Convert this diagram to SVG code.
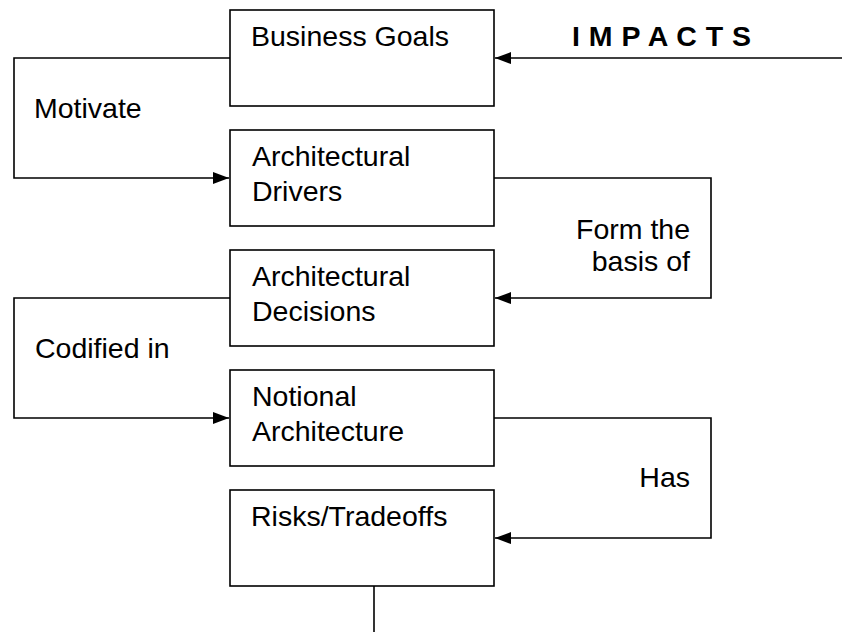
<svg xmlns="http://www.w3.org/2000/svg" width="842" height="632" viewBox="0 0 842 632">
<style>
.box{fill:#fff;stroke:#000;stroke-width:1.6}
.t{font-family:"Liberation Sans",Arial,sans-serif;font-size:28.5px;fill:#000}
.b{font-weight:bold}
.c{fill:none;stroke:#000;stroke-width:1.6}
</style>
<defs>
<marker id="ah" viewBox="0 0 16 12" refX="16" refY="6" markerWidth="16" markerHeight="12" markerUnits="userSpaceOnUse" orient="auto">
<path d="M0,0 L16,6 L0,12 z" fill="#000"/>
</marker>
</defs>
<rect width="842" height="632" fill="#fff"/>
<g id="connectors">
<path class="c" d="M842,58 H495" marker-end="url(#ah)"/>
<path class="c" d="M230,58 H14 V178 H229" marker-end="url(#ah)"/>
<path class="c" d="M494,178 H711 V298 H495" marker-end="url(#ah)"/>
<path class="c" d="M230,298 H14 V418 H229" marker-end="url(#ah)"/>
<path class="c" d="M494,418 H711 V538 H495" marker-end="url(#ah)"/>
<path class="c" d="M374,586 V632"/>
<text class="t b" x="572" y="46" letter-spacing="0.5">I M P A C T S</text>
<text class="t" x="34" y="118">Motivate</text>
<text class="t" x="690" y="239" text-anchor="end">Form the</text>
<text class="t" x="690" y="271" text-anchor="end">basis of</text>
<text class="t" x="35" y="358">Codified in</text>
<text class="t" x="690" y="487" text-anchor="end">Has</text>
</g>
<g id="business-goals">
<rect class="box" x="230" y="10" width="264" height="96"/>
<text class="t" x="251" y="46">Business Goals</text>
</g>
<g id="architectural-drivers">
<rect class="box" x="230" y="130" width="264" height="96"/>
<text class="t" x="252" y="166">Architectural</text>
<text class="t" x="252" y="201">Drivers</text>
</g>
<g id="architectural-decisions">
<rect class="box" x="230" y="250" width="264" height="96"/>
<text class="t" x="252" y="286">Architectural</text>
<text class="t" x="252" y="321">Decisions</text>
</g>
<g id="notional-architecture">
<rect class="box" x="230" y="370" width="264" height="96"/>
<text class="t" x="252" y="406">Notional</text>
<text class="t" x="252" y="441">Architecture</text>
</g>
<g id="risks-tradeoffs">
<rect class="box" x="230" y="490" width="264" height="96"/>
<text class="t" x="251" y="526">Risks/Tradeoffs</text>
</g>
</svg>
